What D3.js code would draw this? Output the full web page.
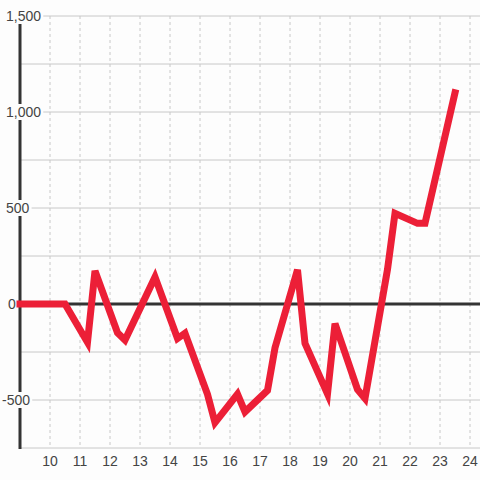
<!DOCTYPE html>
<html>
<head>
<meta charset="utf-8">
<script src="https://cdn.jsdelivr.net/npm/d3@7"></script>
<style>
  body { margin: 0; background: #fdfdfd; }
  svg { display: block; font-family: "Liberation Sans", Arial, sans-serif; }
</style>
</head>
<body>
<svg width="480" height="480"></svg>
<script>
// hour of day and running value
var hours = [9, 10.5, 11.25, 11.5, 12.25, 12.5, 13.5, 14.25, 14.5, 15.25, 15.5, 16.25, 16.5,
             17.25, 17.5, 18.25, 18.5, 19.25, 19.5, 20.25, 20.5, 21.25, 21.5, 22.25, 22.5, 23.5];
var values = [0, 0, -200, 172, -150, -188, 140, -180, -152, -470, -618, -469, -562,
              -450, -228, 178, -205, -468, -102, -445, -492, 180, 472, 420, 420, 1100];

var xTicks = [10, 11, 12, 13, 14, 15, 16, 17, 18, 19, 20, 21, 22, 23, 24];
var yGrid = [-750, -500, -250, 0, 250, 500, 750, 1000, 1250, 1500];
var yLabels = [-500, 0, 500, 1000, 1500];

var data = hours.map(function (h, i) { return { x: h, y: values[i] }; });

var svg = d3.select('svg');
var padL = 20, padR = 480, padT = 16, padB = 448;

var x = d3.scaleLinear().domain([9, 24 + 1 / 3]).range([padL, padR]);
var y = d3.scaleLinear().domain([-750, 1500]).range([padB, padT]);
var fmt = d3.format(',');

// vertical dotted grid
svg.append('g')
  .selectAll('line')
  .data(xTicks)
  .enter().append('line')
  .attr('x1', function (d) { return x(d); })
  .attr('x2', function (d) { return x(d); })
  .attr('y1', padT)
  .attr('y2', padB)
  .attr('stroke', '#c8c8c8')
  .attr('stroke-dasharray', '3,3');

// horizontal grid
svg.append('g')
  .selectAll('line')
  .data(yGrid.filter(function (d) { return d !== 0; }))
  .enter().append('line')
  .attr('x1', padL)
  .attr('x2', padR)
  .attr('y1', function (d) { return y(d); })
  .attr('y2', function (d) { return y(d); })
  .attr('stroke', '#c8c8c8')
  .attr('stroke-width', 1);

// y axis line
svg.append('line')
  .attr('x1', x(9)).attr('x2', x(9))
  .attr('y1', padT).attr('y2', padB + 1)
  .attr('stroke', '#333')
  .attr('stroke-width', 3);

// zero line
svg.append('line')
  .attr('x1', x(9) - 3).attr('x2', padR)
  .attr('y1', y(0)).attr('y2', y(0))
  .attr('stroke', '#333')
  .attr('stroke-width', 3);

// y labels with a background box over the axis
var yl = svg.append('g')
  .selectAll('g')
  .data(yLabels)
  .enter().append('g')
  .attr('transform', function (d) { return 'translate(0,' + y(d) + ')'; });

yl.append('text')
  .attr('x', function (d) { return d < 0 ? 2 : (d === 0 ? 8 : 6); })
  .attr('dy', '0.35em')
  .attr('font-size', 14)
  .attr('fill', '#444')
  .text(function (d) { return fmt(d).replace('\u2212', '-'); });

yl.each(function () {
  var g = d3.select(this);
  var b = g.select('text').node().getBBox();
  g.insert('rect', 'text')
    .attr('x', b.x - 2)
    .attr('y', -8)
    .attr('width', b.width + 4)
    .attr('height', 16)
    .attr('fill', '#fdfdfd');
});

// x labels
svg.append('g')
  .selectAll('text')
  .data(xTicks)
  .enter().append('text')
  .attr('x', function (d) { return x(d); })
  .attr('y', 466)
  .attr('text-anchor', 'middle')
  .attr('font-size', 14)
  .attr('fill', '#444')
  .text(function (d) { return d; });

// series line
var line = d3.line()
  .x(function (d) { return x(d.x); })
  .y(function (d) { return y(d.y); });

svg.append('path')
  .datum(data)
  .attr('d', line)
  .attr('fill', 'none')
  .attr('stroke', '#ec1f37')
  .attr('stroke-width', 7)
  .attr('stroke-linejoin', 'miter')
  .attr('stroke-linecap', 'square');
</script>
</body>
</html>
